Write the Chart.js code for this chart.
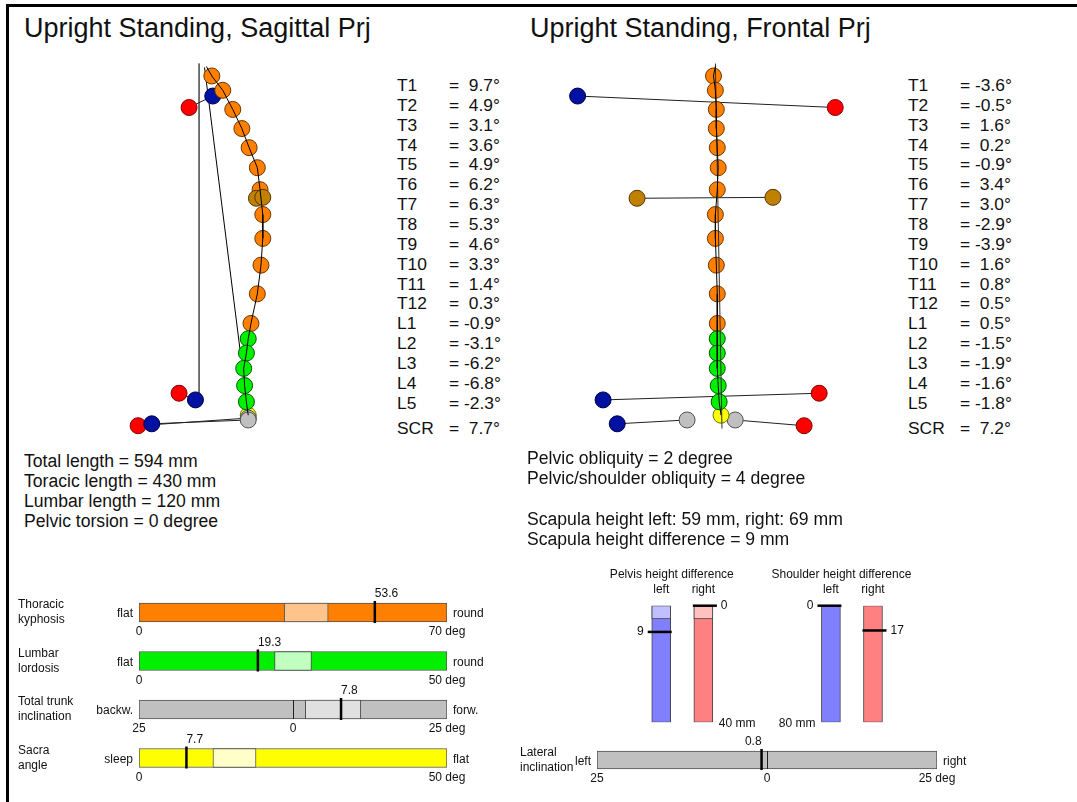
<!DOCTYPE html>
<html>
<head>
<meta charset="utf-8">
<script src="https://cdn.jsdelivr.net/npm/chart.js@4.4.1/dist/chart.umd.min.js"></script>
<style>
body { margin:0; background:#fff; }
#page { position:relative; width:1077px; height:802px; overflow:hidden; background:#fff;
  font-family:'Liberation Sans', Arial, sans-serif; color:#111; }
#frame { position:absolute; left:6px; top:4px; width:1100px; height:820px; border-left:3px solid #000; border-top:3px solid #000; }
.txt { position:absolute; white-space:pre; }
.title { font-size:27px; line-height:30px; }
.big { font-size:17.6px; line-height:20px; }
.tab { font-size:17.4px; line-height:20px; }
canvas { position:absolute; }
</style>
</head>
<body>
<div id="page">
  <div id="frame"></div>
  <div class="txt title" style="left:24px;top:13px">Upright Standing, Sagittal Prj</div>
  <div class="txt title" style="left:530px;top:13px">Upright Standing, Frontal Prj</div>

  <canvas id="sagChart" width="200" height="405" style="left:100px;top:45px"></canvas>
  <canvas id="frontChart" width="320" height="405" style="left:545px;top:45px"></canvas>

  <div id="sagTable"></div>
  <div id="frontTable"></div>
  <div id="sagText" class="txt big" style="left:24px;top:451px"></div>
  <div id="frontText" class="txt big" style="left:527px;top:448px"></div>

  <canvas id="gaugeChart" width="500" height="210" style="left:0px;top:580px"></canvas>
  <canvas id="lateralChart" width="577" height="74" style="left:500px;top:728px"></canvas>
  <canvas id="pelvisChart" width="200" height="180" style="left:590px;top:560px"></canvas>
  <canvas id="shoulderChart" width="200" height="180" style="left:760px;top:560px"></canvas>
</div>

<script>
// vertebra levels, heights above floor and offsets in the two projections
var levels = ['T1','T2','T3','T4','T5','T6','T7','T8','T9','T10','T11','T12','L1','L2','L3','L4','L5'];
var levelHeight = [372, 357, 337, 317, 297, 276, 253, 227, 202, 174, 144, 113, 97, 82, 66, 48, 31];
var sagOffset   = [13, 25, 36, 46, 54, 63, 66, 69, 69, 67, 63, 56, 53, 51, 48, 49, 51];
var frontOffset = [-2, 0, 1, 1, 2, 3, 2, 0, 0, 1, 2, 2, 2, 2, 2, 3, 4];

// angles per level
var sagAngle   = [9.7, 4.9, 3.1, 3.6, 4.9, 6.2, 6.3, 5.3, 4.6, 3.3, 1.4, 0.3, -0.9, -3.1, -6.2, -6.8, -2.3];
var frontAngle = [-3.6, -0.5, 1.6, 0.2, -0.9, 3.4, 3.0, -2.9, -3.9, 1.6, 0.8, 0.5, 0.5, -1.5, -1.9, -1.6, -1.8];
var scrAngle   = [7.7, 7.2];   // sagittal, frontal

// C7 / sacrum / dimples
var c7Height = 382, c7Sag = 7, c7Front = 0;
var sacrumHeight = 17, sacrumSag = 53, sacrumFront = 6;
var dimpleHeight = [12, 12], dimpleSag = [53, 53], dimpleFront = [-30, 21];

// landmarks: shoulder, scapula, pelvis, spina (left = blue, right = red)
var markHeightL = [351, 244, 33, 8];
var markHeightR = [339, 245, 40, 6];
var markSagL    = [14, 62, -5, -53];
var markSagR    = [-12, 69, -23, -68];
var markFrontL  = [-146, -83, -119, -104];
var markFrontR  = [127, 61, 110, 94];

// reference lines
var plumbSagX = [-1, -1], plumbSagH = [385, 37];
var trunkSagX = [5, 45], trunkSagH = [381, 78];
var plumbFrontX = [0, 7], plumbFrontH = [385, 3];

// summary texts
var sagSummary = ['Total length = 594 mm', 'Toracic length = 430 mm', 'Lumbar length = 120 mm', 'Pelvic torsion = 0 degree'];
var frontSummary = ['Pelvic obliquity = 2 degree', 'Pelvic/shoulder obliquity = 4 degree', '', 'Scapula height left: 59 mm, right: 69 mm', 'Scapula height difference = 9 mm'];

// horizontal gauges
var gaugeNames = [['Thoracic','kyphosis'], ['Lumbar','lordosis'], ['Total trunk','inclination'], ['Sacra','angle']];
var gaugeMin = [0, 0, -25, 0];
var gaugeMax = [70, 50, 25, 50];
var gaugeNormLo = [33, 22, 2, 12];
var gaugeNormHi = [43, 28, 11, 19];
var gaugeValue = [53.6, 19.3, 7.8, 7.7];
var gaugeLeftWord = ['flat', 'flat', 'backw.', 'sleep'];
var gaugeRightWord = ['round', 'round', 'forw.', 'flat'];

var lateralValue = -0.8, lateralMin = -25, lateralMax = 25;

// height differences (mm)
var sides = ['left', 'right'];
var pelvisDiff = [9, 0], pelvisMax = 40, pelvisNormal = 4.5;
var shoulderDiff = [0, 17], shoulderMax = 80;

var FAM = "'Liberation Sans', Arial, sans-serif";
var orange = '#FF8000', green = '#00F000', red = '#FF0000', blue = '#0010A0',
    brown = '#C08000', gray = '#C0C0C0', yellow = '#FFFF00';
var edge = { '#FF8000':'#6a3400', '#00F000':'#005800', '#FF0000':'#800000', '#0010A0':'#000040',
             '#C08000':'#503400', '#C0C0C0':'#505050', '#FFFF00':'#707000' };

Chart.defaults.font.family = FAM;
Chart.defaults.animation = false;
Chart.defaults.responsive = false;
Chart.defaults.plugins.legend.display = false;
Chart.defaults.plugins.tooltip.enabled = false;

function pts(xs, ys) {
    return xs.map(function(x, i){ return { x: x, y: ys[i] }; });
}
function dots(data, colors, r) {
    return { data: data, pointRadius: r || 8, pointBackgroundColor: colors,
             pointBorderColor: colors.map(function(c){ return edge[c]; }), pointBorderWidth: 1,
             showLine: false, clip: false };
}
function joined(data, colors) {
    var d = dots(data, colors);
    d.showLine = true; d.borderColor = '#202020'; d.borderWidth = 1;
    return d;
}
function line(data, color) {
    return { data: data, showLine: true, borderColor: color || '#000', borderWidth: 1, pointRadius: 0, clip: false };
}
function spineOptions(xmin, xmax) {
    return {
        layout: { padding: 0 },
        scales: {
            x: { type: 'linear', min: xmin, max: xmax, display: false },
            y: { type: 'linear', min: -10, max: 395, display: false }
        }
    };
}
var vertColors = levels.map(function(l){ return l.charAt(0) === 'T' ? orange : green; });

// sagittal projection
new Chart(document.getElementById('sagChart'), {
    type: 'scatter',
    data: { datasets: [
        line(pts([c7Sag].concat(sagOffset, [sacrumSag]), [c7Height].concat(levelHeight, [sacrumHeight]))),
        dots(pts([markSagL[1], markSagR[1]], [markHeightL[1], markHeightR[1]]), [brown, brown]),
        dots(pts(sagOffset, levelHeight), vertColors),
        joined(pts([markSagL[0], markSagR[0]], [markHeightL[0], markHeightR[0]]), [blue, red]),
        joined(pts([markSagL[2], markSagR[2]], [markHeightL[2], markHeightR[2]]), [blue, red]),
        joined(pts([markSagL[3], dimpleSag[0]], [markHeightL[3], dimpleHeight[0]]), [blue, gray]),
        joined(pts([markSagR[3], dimpleSag[1]], [markHeightR[3], dimpleHeight[1] + 2]), [red, gray]),
        dots(pts([sacrumSag], [sacrumHeight]), [yellow]),
        line(pts(plumbSagX, plumbSagH), '#606060'),
        line(pts(trunkSagX, trunkSagH), '#000')
    ]},
    options: spineOptions(-100, 100)
});

// frontal projection
new Chart(document.getElementById('frontChart'), {
    type: 'scatter',
    data: { datasets: [
        line(pts([c7Front].concat(frontOffset, [sacrumFront]), [c7Height].concat(levelHeight, [sacrumHeight]))),
        line(pts(plumbFrontX, plumbFrontH), '#303030'),
        dots(pts(frontOffset, levelHeight), vertColors),
        dots(pts([sacrumFront], [sacrumHeight]), [yellow]),
        joined(pts([markFrontL[0], markFrontR[0]], [markHeightL[0], markHeightR[0]]), [blue, red]),
        joined(pts([markFrontL[1], markFrontR[1]], [markHeightL[1], markHeightR[1]]), [brown, brown]),
        joined(pts([markFrontL[2], markFrontR[2]], [markHeightL[2], markHeightR[2]]), [blue, red]),
        joined(pts([markFrontL[3], dimpleFront[0]], [markHeightL[3], dimpleHeight[0]]), [blue, gray]),
        joined(pts([dimpleFront[1], markFrontR[3]], [dimpleHeight[1], markHeightR[3]]), [gray, red])
    ]},
    options: spineOptions(-171, 149)
});

// angle tables
function fmtAngle(v) {
    return '= ' + (v < 0 ? '-' : ' ') + Math.abs(v).toFixed(1) + '\u00B0';
}
function fillTable(boxId, left, angles, scr) {
    var box = document.getElementById(boxId);
    var html = '';
    var rows = levels.map(function(l, i){ return [l, angles[i], 75 + i * 19.85]; });
    rows.push(['SCR', scr, 418]);
    rows.forEach(function(r){
        html += '<div class="txt tab" style="left:' + left + 'px;top:' + r[2] + 'px">' + r[0] + '</div>';
        html += '<div class="txt tab" style="left:' + (left + 52) + 'px;top:' + r[2] + 'px">' + fmtAngle(r[1]) + '</div>';
    });
    box.innerHTML = html;
}
fillTable('sagTable', 397, sagAngle, scrAngle[0]);
fillTable('frontTable', 908, frontAngle, scrAngle[1]);
document.getElementById('sagText').textContent = sagSummary.join('\n');
document.getElementById('frontText').textContent = frontSummary.join('\n');
document.getElementById('frontText').style.lineHeight = '20.3px';

// horizontal gauge bars
function hGauge(id, g) {
    var labels = g.min.map(function(v, i){ return String(i); });
    var scales = { y: { type: 'category', labels: labels, display: false } };
    var datasets = [];
    g.min.forEach(function(mn, i){
        scales['x' + i] = { type: 'linear', axis: 'x', min: mn, max: g.max[i], display: false };
        if (g.lo) {
            datasets.push({ data: [{ y: labels[i], x: [g.lo[i], g.hi[i]] }], xAxisID: 'x' + i,
                backgroundColor: g.light[i], borderColor: '#505050', borderWidth: 1, borderSkipped: false,
                grouped: false, barThickness: g.thick });
        }
        datasets.push({ data: [{ y: labels[i], x: [mn, g.max[i]] }], xAxisID: 'x' + i,
            backgroundColor: g.color[i], borderColor: '#505050', borderWidth: 1, borderSkipped: false,
            grouped: false, barThickness: g.thick });
    });
    var deco = {
        id: 'gaugeDeco',
        afterDatasetsDraw: function(chart) {
            var ctx = chart.ctx, ys = chart.scales.y;
            ctx.save();
            ctx.font = '12px ' + FAM;
            ctx.fillStyle = '#111';
            ctx.textBaseline = 'middle';
            g.min.forEach(function(mn, i){
                var xs = chart.scales['x' + i];
                var yc = ys.getPixelForValue(i);
                var top = yc - g.thick / 2, bottom = yc + g.thick / 2;
                var left = xs.getPixelForValue(mn), right = xs.getPixelForValue(g.max[i]);
                if (mn < 0) {
                    var z = Math.round(xs.getPixelForValue(0)) + 0.5;
                    ctx.strokeStyle = '#202020'; ctx.lineWidth = 1;
                    ctx.beginPath(); ctx.moveTo(z, top); ctx.lineTo(z, bottom); ctx.stroke();
                }
                var xv = xs.getPixelForValue(g.value[i]);
                ctx.strokeStyle = '#000'; ctx.lineWidth = 2.5;
                ctx.beginPath(); ctx.moveTo(xv, top - 2); ctx.lineTo(xv, bottom + 1); ctx.stroke();

                ctx.textAlign = g.value[i] < 0 ? 'right' : 'left';
                ctx.fillText(Math.abs(g.value[i]).toFixed(1), xv, top - 9);

                ctx.textAlign = 'left';
                ctx.fillText(g.names[i][0], g.nameX, yc - 7.5);
                ctx.fillText(g.names[i][1], g.nameX, yc + 7.5);

                ctx.textAlign = 'right';
                ctx.fillText(g.leftWord[i], left - 6, yc + 1.5);
                ctx.textAlign = 'left';
                ctx.fillText(g.rightWord[i], right + 6, yc + 1.5);

                ctx.textAlign = 'center';
                ctx.fillText(String(Math.abs(mn)), left, bottom + 10);
                if (mn < 0) ctx.fillText('0', xs.getPixelForValue(0), bottom + 10);
                ctx.fillText(Math.abs(g.max[i]) + ' deg', right, bottom + 10);
            });
            ctx.restore();
        }
    };
    new Chart(document.getElementById(id), {
        type: 'bar',
        data: { labels: labels, datasets: datasets },
        options: { indexAxis: 'y', layout: { padding: g.padding }, scales: scales },
        plugins: [deco]
    });
}

hGauge('gaugeChart', {
    names: gaugeNames, min: gaugeMin, max: gaugeMax, lo: gaugeNormLo, hi: gaugeNormHi,
    value: gaugeValue, leftWord: gaugeLeftWord, rightWord: gaugeRightWord,
    color: [orange, green, gray, yellow], light: ['#FFC48C', '#C0FFC0', '#E0E0E0', '#FFFFC8'],
    thick: 19, nameX: 18, padding: { left: 139, right: 53, top: 8.25, bottom: 7.75 }
});

hGauge('lateralChart', {
    names: [['Lateral', 'inclination']], min: [lateralMin], max: [lateralMax], lo: null, hi: null,
    value: [lateralValue], leftWord: ['left'], rightWord: ['right'],
    color: [gray], light: [null],
    thick: 18, nameX: 20, padding: { left: 97, right: 140, top: 12, bottom: 22 }
});

// vertical height-difference bars
function vGauge(id, v) {
    var datasets = [];
    if (v.normal) {
        datasets.push({ data: sides.map(function(){ return [0, v.normal]; }), backgroundColor: ['#C0C0FF', '#FFC0C0'],
            borderColor: '#404040', borderWidth: 1, borderSkipped: false, grouped: false, barThickness: 19 });
    }
    datasets.push({ data: sides.map(function(){ return [0, v.max]; }), backgroundColor: ['#8080FF', '#FF8080'],
        borderColor: '#404040', borderWidth: 1, borderSkipped: false, grouped: false, barThickness: 19 });
    var deco = {
        id: 'vDeco',
        afterDatasetsDraw: function(chart) {
            var ctx = chart.ctx, xs = chart.scales.x, ys = chart.scales.y, a = chart.chartArea;
            ctx.save();
            ctx.font = '12px ' + FAM;
            ctx.fillStyle = '#111';
            ctx.textBaseline = 'middle';
            ctx.textAlign = 'center';
            ctx.fillText(v.title, (a.left + a.right) / 2 - 10.5, a.top - 31);
            sides.forEach(function(s, j){
                var xc = xs.getPixelForValue(j);
                ctx.textAlign = 'center';
                ctx.fillText(s, xc, a.top - 16);
                var yv = ys.getPixelForValue(v.values[j]);
                var outer = j === 0 ? -1 : 1;
                var x0 = xc - outer * (9.5 + 1), x1 = xc + outer * (9.5 + 4);
                ctx.strokeStyle = '#000'; ctx.lineWidth = 2.5;
                ctx.beginPath(); ctx.moveTo(x0, yv); ctx.lineTo(x1, yv); ctx.stroke();
                ctx.textAlign = j === 0 ? 'right' : 'left';
                ctx.fillText(String(v.values[j]), x1 + outer * 4, yv);
            });
            var ux = v.unitSide === 'left' ? xs.getPixelForValue(0) - 9.5 - 6 : xs.getPixelForValue(1) + 9.5 + 6;
            ctx.textAlign = v.unitSide === 'left' ? 'right' : 'left';
            ctx.fillText(v.max + ' mm', ux, a.bottom + 1);
            ctx.restore();
        }
    };
    new Chart(document.getElementById(id), {
        type: 'bar',
        data: { labels: sides, datasets: datasets },
        options: {
            layout: { padding: v.padding },
            scales: {
                x: { type: 'category', display: false },
                y: { type: 'linear', min: 0, max: v.max, reverse: true, display: false }
            }
        },
        plugins: [deco]
    });
}

vGauge('pelvisChart', {
    title: 'Pelvis height difference', values: pelvisDiff, max: pelvisMax, normal: pelvisNormal,
    unitSide: 'right', padding: { left: 50.2, right: 65.6, top: 45.7, bottom: 17.7 }
});
vGauge('shoulderChart', {
    title: 'Shoulder height difference', values: shoulderDiff, max: shoulderMax, normal: null,
    unitSide: 'left', padding: { left: 49.9, right: 66, top: 45.7, bottom: 17.7 }
});
</script>
</body>
</html>
